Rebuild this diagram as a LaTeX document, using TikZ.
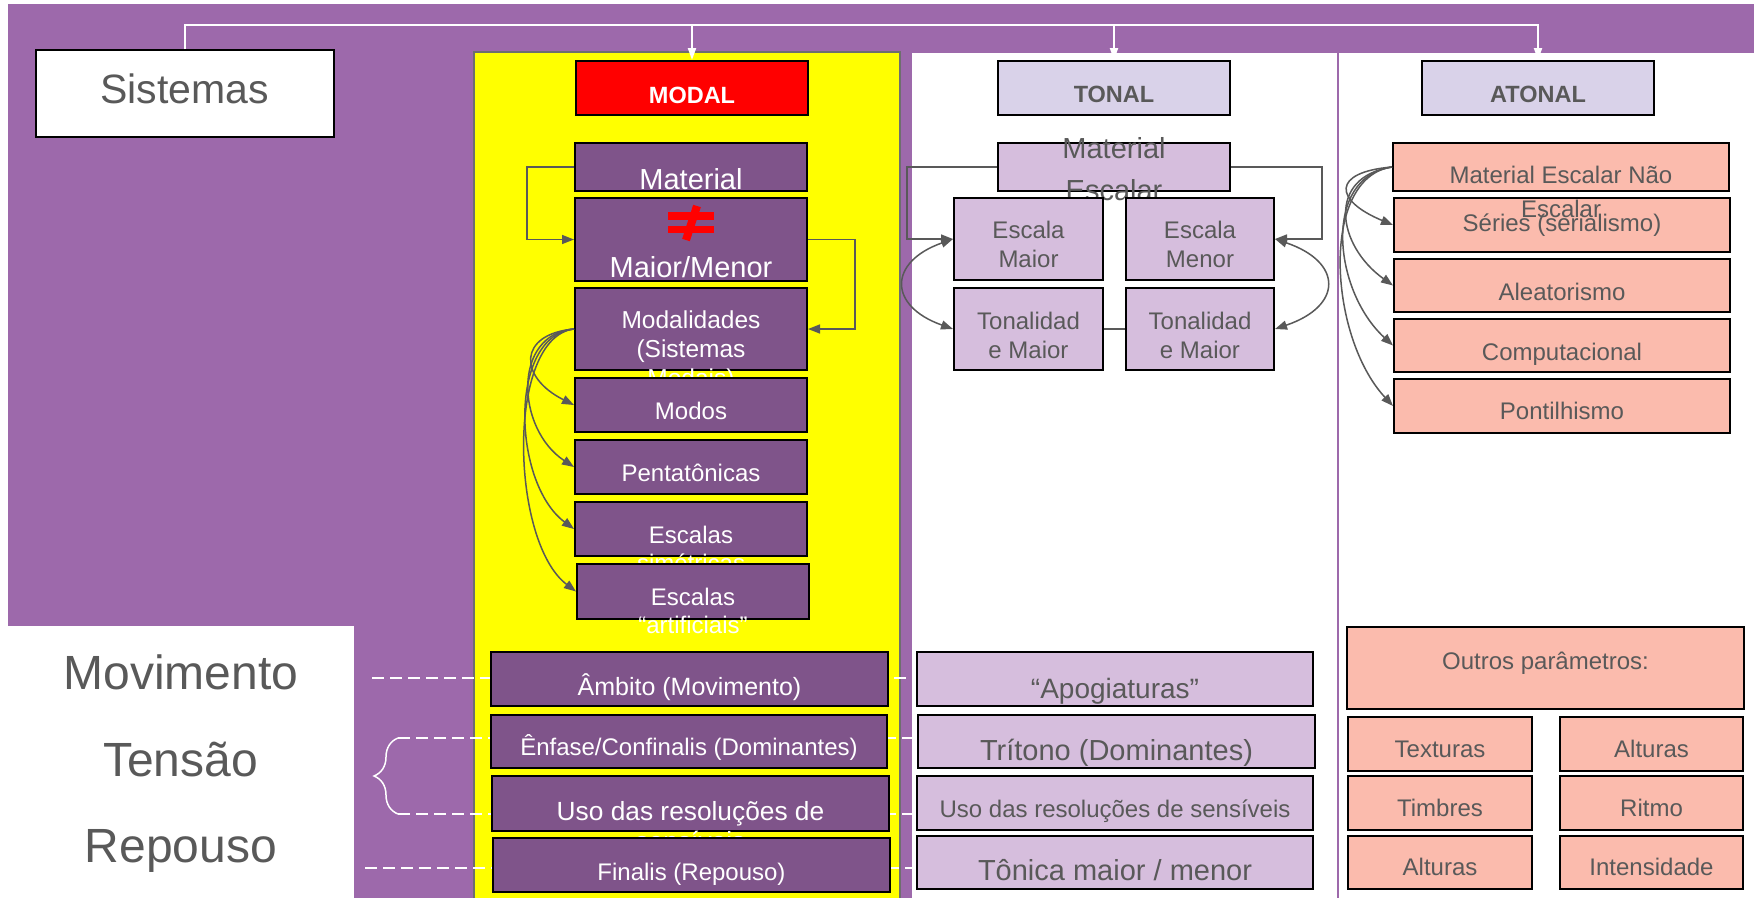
\documentclass[tikz,border=0pt]{standalone}
\usepackage{fontspec}
\setmainfont{Liberation Sans}
\usetikzlibrary{arrows.meta,decorations.pathreplacing}
\definecolor{bgpurple}{RGB}{157,105,171}
\definecolor{boxpurple}{RGB}{127,84,138}
\definecolor{lilac}{RGB}{214,190,221}
\definecolor{lilachead}{RGB}{217,210,233}
\definecolor{salmon}{RGB}{251,187,173}
\definecolor{txtgray}{RGB}{89,89,89}
\definecolor{lngray}{RGB}{89,89,89}
\definecolor{ylborder}{RGB}{110,110,110}
\definecolor{pureyellow}{RGB}{255,255,0}
\definecolor{purered}{RGB}{255,0,0}
\pgfdeclarelayer{bg}
\pgfsetlayers{bg,main}
\begin{document}
\begin{tikzpicture}[x=1pt,y=-1pt,
  box/.style={draw=black, line width=2pt, rectangle, inner sep=0pt},
  sz/.style 2 args={minimum width=#1pt, minimum height=#2pt},
  pbox/.style={box, fill=boxpurple},
  lbox/.style={box, fill=lilac},
  hbox/.style={box, fill=lilachead},
  sbox/.style={box, fill=salmon},
  wbox/.style={box, fill=white},
  rbox/.style={box, fill=purered},
  txt/.style={inner sep=0pt, anchor=base, align=center, text=txtgray},
  wtxt/.style={txt, text=white},
  fs/.style 2 args={font=\fontsize{#1}{#2}\selectfont},
  conn/.style={draw=lngray, line width=1.5pt},
  tip/.style={-{Triangle[length=12pt,width=9pt]}},
  dtip/.style={{Triangle[length=12pt,width=9pt]}-{Triangle[length=12pt,width=9pt]}},
  wline/.style={draw=white, line width=2pt},
  wtip/.style={-{Triangle[length=12pt,width=8pt]}},
  dline/.style={draw=white, line width=2pt, dash pattern=on 12pt off 6pt},
]
\useasboundingbox (0,0) rectangle (1754,898);

% ---------- header boxes ----------
\node[wbox, sz={298}{87}] (sis) at (184.5,93.5) {};
\node[txt, fs={41}{47}] (sisT) at (184.5,103) {Sistemas};
\node[rbox, sz={232}{54}] (modal) at (692,88) {};
\node[wtxt, fs={23.5}{28}] (modalT) at (692,103) {\bfseries MODAL};
\node[hbox, sz={232}{54}] (tonal) at (1114,88) {};
\node[txt, fs={23.5}{28}] (tonalT) at (1114,102) {\bfseries TONAL};
\node[hbox, sz={232}{54}] (atonal) at (1538,88) {};
\node[txt, fs={23.5}{28}] (atonalT) at (1538,102) {\bfseries ATONAL};

% ---------- modal column ----------
% (anchor=base of a multi-line text = baseline of its last line)
\node[pbox, sz={232}{48}] (mat) at (691,167) {};
\node[wtxt, fs={29}{34}] (matT) at (691,189) {Material};
\node[pbox, sz={232}{83}] (mm) at (691,239.5) {};
\node[wtxt, fs={29}{34}] (mmT) at (691,277) {Maior/Menor};
\node[pbox, sz={232}{82}] (moda) at (691,329) {};
\node[wtxt, fs={24.5}{29}] (modaT) at (691,386) {Modalidades\\(Sistemas\\Modais)};
\node[pbox, sz={232}{54}] (modos) at (691,405) {};
\node[wtxt, fs={24}{28}] (modosT) at (691,419) {Modos};
\node[pbox, sz={232}{54}] (penta) at (691,467) {};
\node[wtxt, fs={24}{28}] (pentaT) at (691,481) {Pentatônicas};
\node[pbox, sz={232}{54}] (esim) at (691,529) {};
\node[wtxt, fs={24}{28}] (esimT) at (691,571) {Escalas\\simétricas};
\node[pbox, sz={232}{55}] (eart) at (693,591.5) {};
\node[wtxt, fs={24}{28}] (eartT) at (693,633) {Escalas\\“artificiais”};

% not-equal sign
\fill[purered] (668,212) rectangle (714,219.5);
\fill[purered] (668,225.5) rectangle (714,233);
\draw[purered, line width=8pt] (697,206) -- (686,240);

% modal connectors
\draw[conn, tip] (mat.west) -- ++(-47,0) |- (mm.west);
\draw[conn, tip] (mm.east) -- ++(47,0) |- (moda.east);
\draw[conn, tip] (moda.west) .. controls +(-56,5) and +(-56,-28) .. (modos.west);
\draw[conn, tip] (moda.west) .. controls +(-62,5) and +(-58,-38) .. (penta.west);
\draw[conn, tip] (moda.west) .. controls +(-66,6) and +(-62,-46) .. (esim.west);
\draw[conn, tip] (moda.west) .. controls +(-68,8) and +(-66,-50) .. (eart.west);

% ---------- tonal column ----------
\node[lbox, sz={232}{48}] (tmat) at (1114,167) {};
\node[txt, fs={29}{42}] (tmatT) at (1114,200) {Material\\Escalar};
\node[lbox, sz={149}{82}] (emaior) at (1028.5,239) {};
\node[txt, fs={24}{29}] (emaiorT) at (1028.5,267) {Escala\\Maior};
\node[lbox, sz={148}{82}] (emenor) at (1200,239) {};
\node[txt, fs={24}{29}] (emenorT) at (1200,267) {Escala\\Menor};
\node[lbox, sz={149}{82}] (tmaior) at (1028.5,329) {};
\node[txt, fs={24}{29}] (tmaiorT) at (1028.5,358) {Tonalidad\\e Maior};
\node[lbox, sz={148}{82}] (tmenor) at (1200,329) {};
\node[txt, fs={24}{29}] (tmenorT) at (1200,358) {Tonalidad\\e Maior};

\draw[conn, tip] (tmat.west) -- ++(-90,0) |- (emaior.west);
\draw[conn, tip] (tmat.east) -- ++(91,0) |- (emenor.east);
\draw[conn, dtip] (emaior.west) .. controls +(-65,23) and +(-65,-23) .. (tmaior.west);
\draw[conn, dtip] (emenor.east) .. controls +(68,23) and +(68,-23) .. (tmenor.east);
\draw[conn] (tmaior.east) -- (tmenor.west);

% ---------- atonal column ----------
\node[sbox, sz={336}{54}] (series) at (1562,225) {};
\node[txt, fs={24}{28}] (seriesT) at (1562,231) {Séries (serialismo)};
\node[sbox, sz={336}{48}] (amat) at (1561,167) {};
\node[txt, fs={24}{34}] (amatT) at (1561,217) {Material Escalar Não\\Escalar};
\node[sbox, sz={336}{53}] (alea) at (1562,285.5) {};
\node[txt, fs={24}{28}] (aleaT) at (1562,300) {Aleatorismo};
\node[sbox, sz={336}{53}] (comp) at (1562,345.5) {};
\node[txt, fs={24}{28}] (compT) at (1562,360) {Computacional};
\node[sbox, sz={336}{54}] (pont) at (1562,406) {};
\node[txt, fs={24}{28}] (pontT) at (1562,419) {Pontilhismo};

\draw[conn, tip] (amat.west) .. controls +(-60,5) and +(-60,-25) .. (series.west);
\draw[conn, tip] (amat.west) .. controls +(-66,10) and +(-56,-40) .. (alea.west);
\draw[conn, tip] (amat.west) .. controls +(-70,10) and +(-60,-55) .. (comp.west);
\draw[conn, tip] (amat.west) .. controls +(-72,10) and +(-65,-70) .. (pont.west);

% ---------- bottom: modal ----------
\node[pbox, sz={397}{54}] (amb) at (689.5,679) {};
\node[wtxt, fs={25}{29}] (ambT) at (689.5,695) {Âmbito (Movimento)};
\node[pbox, sz={396}{53}] (enf) at (689,741.5) {};
\node[wtxt, fs={24}{28}] (enfT) at (689,755) {Ênfase/Confinalis (Dominantes)};
\node[pbox, sz={397}{55}] (uso) at (690.5,803.5) {};
\node[wtxt, fs={26.3}{30}] (usoT) at (690.5,850) {Uso das resoluções de\\sensíveis};
\node[pbox, sz={397}{54}] (fin) at (691.5,865) {};
\node[wtxt, fs={24}{28}] (finT) at (691.5,880) {Finalis (Repouso)};

% ---------- bottom: tonal ----------
\node[lbox, sz={396}{54}] (apo) at (1115,679) {};
\node[txt, fs={28}{32}] (apoT) at (1115,698) {“Apogiaturas”};
\node[lbox, sz={397}{53}] (tri) at (1116.5,741.5) {};
\node[txt, fs={29}{33}] (triT) at (1116.5,760) {Trítono (Dominantes)};
\node[lbox, sz={396}{54}] (usos) at (1115,803) {};
\node[txt, fs={24}{28}] (usosT) at (1115,817) {Uso das resoluções de sensíveis};
\node[lbox, sz={396}{53}] (ton) at (1115,862.5) {};
\node[txt, fs={29}{33}] (tonT) at (1115,880) {Tônica maior / menor};

% ---------- bottom: atonal ----------
\node[sbox, sz={397}{82}] (outros) at (1545.5,668) {};
\node[txt, fs={24}{28}] (outrosT) at (1545.5,669) {Outros parâmetros:};
\node[sbox, sz={184}{54}] (tex) at (1440,744) {};
\node[txt, fs={24}{28}] (texT) at (1440,757) {Texturas};
\node[sbox, sz={183}{54}] (alt1) at (1651.5,744) {};
\node[txt, fs={24}{28}] (alt1T) at (1651.5,757) {Alturas};
\node[sbox, sz={184}{54}] (tim) at (1440,803) {};
\node[txt, fs={24}{28}] (timT) at (1440,816) {Timbres};
\node[sbox, sz={183}{54}] (rit) at (1651.5,803) {};
\node[txt, fs={24}{28}] (ritT) at (1651.5,816) {Ritmo};
\node[sbox, sz={184}{53}] (alt2) at (1440,862.5) {};
\node[txt, fs={24}{28}] (alt2T) at (1440,875) {Alturas};
\node[sbox, sz={183}{53}] (int) at (1651.5,862.5) {};
\node[txt, fs={24}{28}] (intT) at (1651.5,875) {Intensidade};

% ---------- left labels ----------
\node[txt, fs={48}{55}] (movT) at (181,689) {Movimento};
\node[txt, fs={48}{55}] (tenT) at (180.5,776) {Tensão};
\node[txt, fs={48}{55}] (repT) at (181,862) {Repouso};

% ---------- top bus (white) ----------
\coordinate (bus) at (184.5,25);
\draw[wline, wtip] (sis.north) |- (bus -| atonal.north) -- (atonal.north);
\draw[wline, wtip] (bus -| modal.north) -- (modal.north);
\draw[wline, wtip] (bus -| tonal.north) -- (tonal.north);

% ---------- background layer ----------
\begin{pgfonlayer}{bg}
  \fill[white] (0,0) rectangle (1754,898);
  \fill[bgpurple] (8,4) rectangle (1754,898);
  \fill[white] (0,626) rectangle (354,898);
  \fill[pureyellow] (474,52) rectangle (900,898);
  \draw[ylborder, line width=1.5pt] (474,898) -- (474,52) -- (900,52) -- (900,898);
  \fill[white] (912,53) rectangle (1754,898);
  \draw[bgpurple, line width=2pt] (1338,53) -- (1338,898);
  % dashed guide lines
  \coordinate (mvL) at (372,678);
  \coordinate (tsA) at (398,738);
  \coordinate (tsB) at (398,814);
  \coordinate (rpL) at (365,868);
  \draw[dline] (mvL) -- (mvL -| apo.west);
  \draw[dline] (tsA) -- (tsA -| tri.west);
  \draw[dline] (tsB) -- (tsB -| usos.west);
  \draw[dline] (rpL) -- (rpL -| ton.west);
  \draw[white, line width=1.5pt, decorate, decoration={brace, amplitude=24pt}] (tsB) -- (tsA);
\end{pgfonlayer}
\end{tikzpicture}
\end{document}
